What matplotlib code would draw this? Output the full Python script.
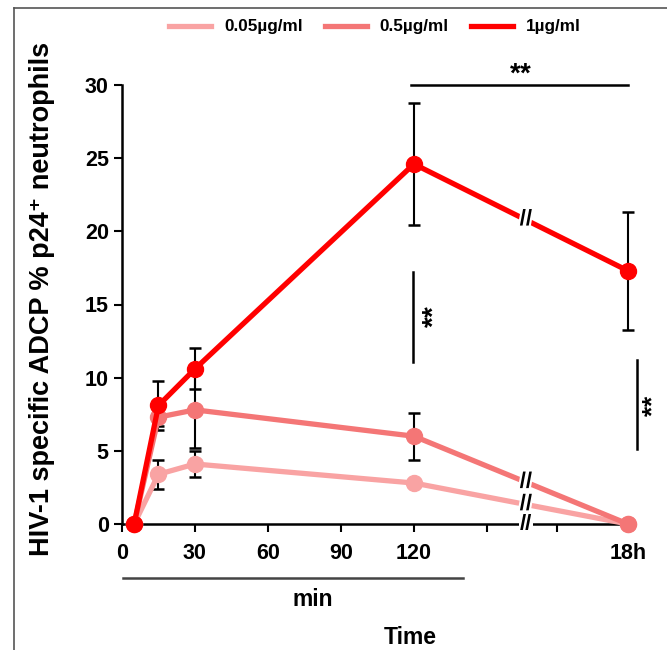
import matplotlib
matplotlib.use("Agg")
import matplotlib.pyplot as plt
import matplotlib.patheffects as pe
from matplotlib.lines import Line2D

plt.rcParams['font.family'] = ['Liberation Sans', 'DejaVu Sans']
plt.rcParams['font.weight'] = 'bold'
plt.rcParams['mathtext.fontset'] = 'custom'
plt.rcParams['mathtext.rm'] = 'Liberation Sans:bold'
plt.rcParams['mathtext.bf'] = 'Liberation Sans:bold'

# time points (min); 18h is drawn at a compressed position after the axis break
time_pts = [5, 15, 30, 120, 208]
tick_pos = [0, 30, 60, 90, 120, 150, 179, 208]
tick_lab = ['0', '30', '60', '90', '120', '', '', '18h']

labels = ['0.05µg/ml', '0.5µg/ml', '1µg/ml']
colors = ['#f9a3a3', '#f47676', '#ff0000']

low_mean = [0, 3.4, 4.1, 2.8, 0]
low_err = [0, 1.0, 0.9, 0.3, 0]
mid_mean = [0, 7.3, 7.8, 6.0, 0]
mid_err = [0, 0.6, 2.6, 1.6, 0]
high_mean = [0, 8.1, 10.6, 24.6, 17.3]
high_err = [0, 1.7, 1.4, 4.15, 4.05]

means = [low_mean, mid_mean, high_mean]
errs = [low_err, mid_err, high_err]

fig = plt.figure(figsize=(6.67, 6.5), dpi=100)
ax = fig.add_axes([122 / 667, 1 - 524 / 650, (628 - 122) / 667, (524 - 85) / 650])

for i in range(3):
    ax.errorbar(time_pts, means[i], yerr=errs[i], fmt='none', ecolor='black',
                elinewidth=1.5, capsize=4, capthick=1.8, zorder=2, clip_on=False)
    ax.plot(time_pts, means[i], '-o', color=colors[i], lw=3.8, ms=11.5,
            label=labels[i], zorder=3 + i, clip_on=False)

ax.set_xlim(0, 208)
ax.set_ylim(0, 30)
ax.set_xticks(tick_pos)
ax.set_xticklabels(tick_lab)
ax.set_yticks([0, 5, 10, 15, 20, 25, 30])
ax.tick_params(axis='both', labelsize=15.5, width=1.5, length=6, direction='out')
ax.tick_params(axis='x', pad=8)
for s in ['top', 'right']:
    ax.spines[s].set_visible(False)
for s in ['left', 'bottom']:
    ax.spines[s].set_linewidth(1.8)
ax.set_ylabel('HIV-1 specific ADCP % p24⁺ neutrophils', fontsize=19.5, fontweight='bold')
ax.yaxis.set_label_coords((55 - 122) / 506, (524 - 299) / 439)

# axis break marks
brk = 166
ax.text(brk, 0, '//', ha='center', va='center', fontsize=16, fontweight='bold',
        bbox=dict(facecolor='white', edgecolor='none', pad=0.5), zorder=10, clip_on=False)
for y in [20.8, 2.86, 1.34]:
    ax.text(brk, y, '//', ha='center', va='center', fontsize=16, fontweight='bold',
            path_effects=[pe.withStroke(linewidth=3, foreground='white')], zorder=10)

# significance brackets
stars = r'$\mathbf{{*}{*}}$'
ax.plot([119, 208], [30, 30], color='black', lw=1.8, clip_on=False, zorder=6)
ax.text(164, 30.8, stars, ha='center', va='center', fontsize=20, clip_on=False)
ax.plot([119.5, 119.5], [11.1, 17.2], color='black', lw=1.8, zorder=6)
ax.text(128, 14.2, stars, ha='center', va='center', rotation=90, fontsize=20)
ax.plot([211.5, 211.5], [5.1, 11.2], color='black', lw=1.8, clip_on=False, zorder=6)
ax.text(217.8, 8.1, stars, ha='center', va='center', rotation=90, fontsize=19, clip_on=False)

# "min" bar and axis titles
xt = ax.get_xaxis_transform()
ax.plot([0.5, 140], [-(578 - 524) / 439] * 2, color='#444444', lw=1.8,
        transform=xt, clip_on=False)
fig.text(313 / 667, 1 - 600 / 650, 'min', ha='center', va='center', fontsize=16.5, fontweight='bold')
fig.text(410 / 667, 1 - 637 / 650, 'Time', ha='center', va='center', fontsize=16.5, fontweight='bold')

handles = [Line2D([0], [0], color=c, lw=3.8) for c in colors]
fig.legend(handles, labels, loc='center', bbox_to_anchor=(375 / 667, 1 - 27 / 650), ncol=3,
           frameon=False, handlelength=2.45, columnspacing=1.3, handletextpad=0.76,
           prop={'weight': 'bold', 'size': 12.3})

# image frame
fig.add_artist(Line2D([14 / 667, 1], [1 - 8 / 650] * 2, color='#555555', lw=1.2))
fig.add_artist(Line2D([14 / 667] * 2, [0, 1 - 8 / 650], color='#555555', lw=1.2))

fig.savefig('out.png', dpi=100)
